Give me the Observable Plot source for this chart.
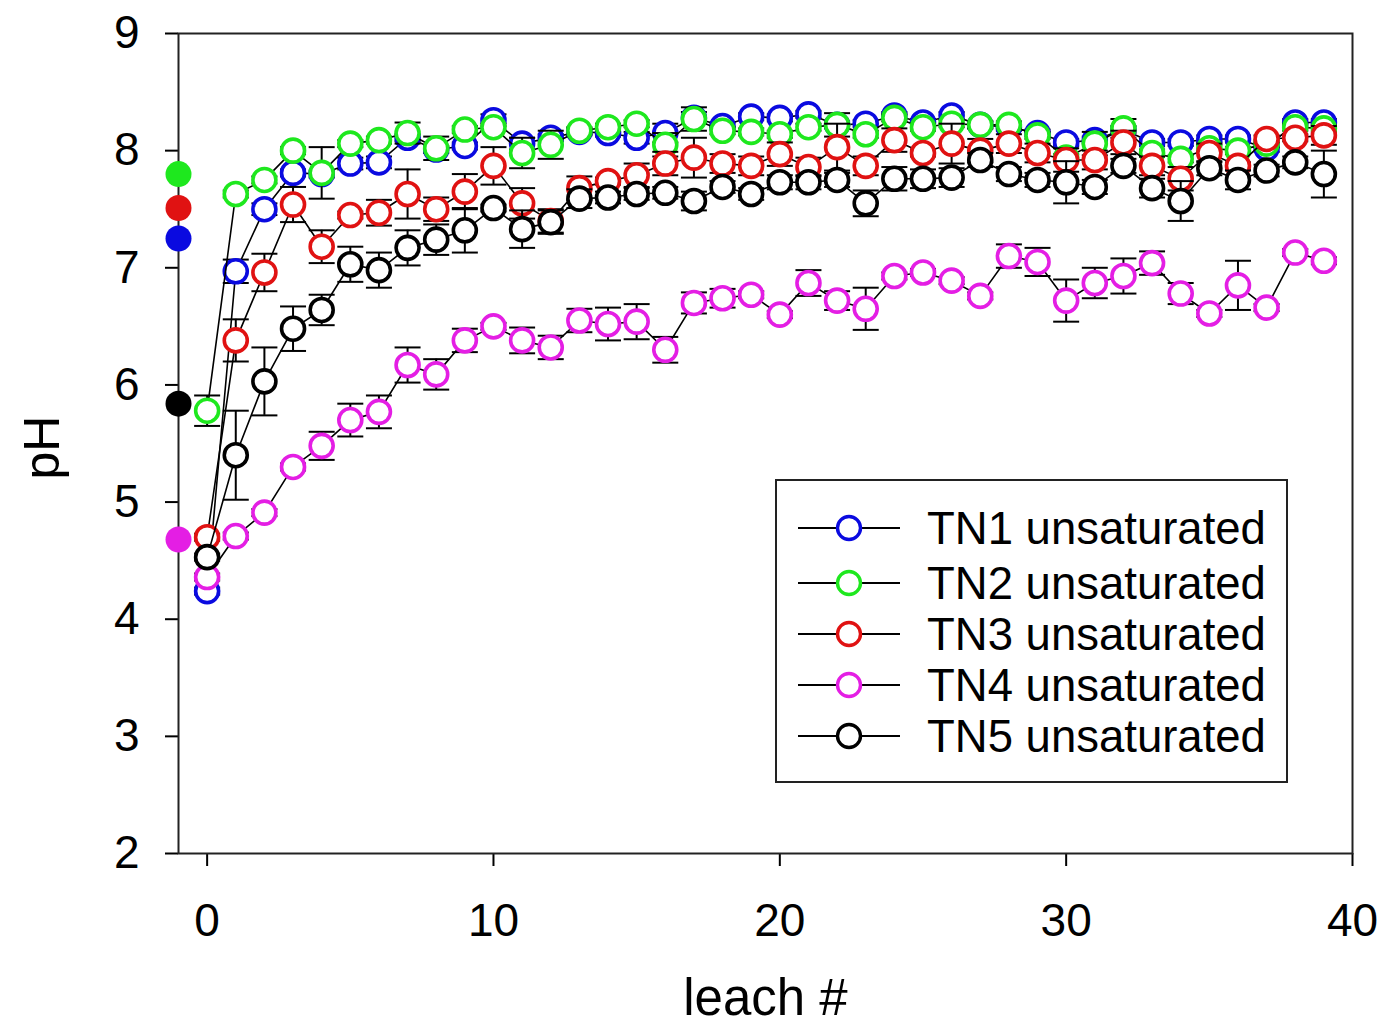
<!DOCTYPE html>
<html>
<head>
<meta charset="utf-8">
<script src="https://cdn.jsdelivr.net/npm/d3@7"></script>
<script src="https://cdn.jsdelivr.net/npm/@observablehq/plot@0.6"></script>
<style>
  html, body { margin: 0; padding: 0; background: #fff; }
  #wrap { position: relative; width: 1384px; height: 1029px; font-family: "Liberation Sans", Arimo, Arial, sans-serif; }
  #legend { position: absolute; left: 775px; top: 479px; }
</style>
</head>
<body>
<div id="wrap">
  <div id="chart"></div>
  <div id="legend"></div>
</div>
<script>
// ---- data ----
const leach = [0,1,2,3,4,5,6,7,8,9,10,11,12,13,14,15,16,17,18,19,20,21,22,23,24,25,26,27,28,29,30,31,32,33,34,35,36,37,38,39];

const seriesNames = ["TN1 unsaturated", "TN2 unsaturated", "TN3 unsaturated", "TN4 unsaturated", "TN5 unsaturated"];
const seriesColors = ["#0a0ae0", "#1ee81e", "#e01212", "#e41ee4", "#000000"];

const TN1 = [4.24,6.97,7.50,7.81,7.80,7.89,7.90,8.11,8.01,8.04,8.26,8.06,8.11,8.16,8.15,8.11,8.15,8.28,8.21,8.29,8.28,8.31,8.22,8.23,8.30,8.24,8.30,8.22,8.20,8.15,8.07,8.09,8.18,8.07,8.07,8.10,8.10,8.02,8.24,8.24];
const TN2 = [5.78,7.63,7.75,8.00,7.81,8.06,8.09,8.15,8.02,8.18,8.20,7.98,8.05,8.17,8.20,8.23,8.05,8.27,8.17,8.16,8.14,8.20,8.22,8.14,8.28,8.20,8.23,8.22,8.22,8.13,7.94,8.06,8.19,7.98,7.93,8.02,8.00,8.06,8.20,8.19];
const TN3 = [4.70,6.38,6.96,7.54,7.18,7.45,7.47,7.63,7.50,7.65,7.87,7.55,7.40,7.68,7.74,7.79,7.89,7.94,7.89,7.87,7.97,7.86,8.03,7.87,8.09,7.98,8.06,8.00,8.06,7.98,7.92,7.92,8.07,7.87,7.76,7.98,7.87,8.10,8.11,8.13];
const TN4 = [4.36,4.71,4.91,5.30,5.48,5.70,5.77,6.17,6.09,6.38,6.50,6.38,6.32,6.55,6.52,6.54,6.30,6.70,6.74,6.77,6.60,6.87,6.72,6.65,6.93,6.96,6.89,6.76,7.10,7.05,6.72,6.87,6.93,7.04,6.78,6.61,6.85,6.66,7.13,7.06];
const TN5 = [4.53,5.40,6.03,6.48,6.64,7.03,6.98,7.17,7.24,7.32,7.51,7.33,7.39,7.59,7.60,7.63,7.64,7.57,7.69,7.63,7.73,7.73,7.75,7.55,7.76,7.76,7.77,7.92,7.80,7.75,7.73,7.69,7.87,7.68,7.57,7.85,7.75,7.83,7.90,7.80];

const TN1err = [0.03,0.10,0.05,0.03,0.03,0.05,0.05,0.03,0.03,0.03,0.05,0.05,0.03,0.03,0.03,0.05,0.08,0.05,0.03,0.03,0.03,0.03,0.03,0.03,0.03,0.03,0.03,0.03,0.03,0.03,0.03,0.03,0.03,0.03,0.03,0.03,0.03,0.03,0.03,0.03];
const TN2err = [0.13,0.03,0.03,0.03,0.22,0.03,0.03,0.09,0.10,0.03,0.03,0.13,0.12,0.03,0.03,0.03,0.10,0.10,0.03,0.03,0.03,0.03,0.10,0.03,0.03,0.03,0.03,0.03,0.03,0.03,0.03,0.10,0.08,0.03,0.03,0.03,0.03,0.03,0.03,0.03];
const TN3err = [0.03,0.18,0.16,0.15,0.14,0.03,0.11,0.21,0.10,0.15,0.16,0.13,0.10,0.10,0.03,0.10,0.10,0.17,0.08,0.08,0.10,0.08,0.20,0.08,0.10,0.03,0.17,0.10,0.08,0.08,0.10,0.08,0.10,0.08,0.10,0.08,0.03,0.03,0.03,0.08];
const TN4err = [0.03,0.03,0.03,0.03,0.12,0.14,0.14,0.15,0.13,0.10,0.03,0.11,0.10,0.10,0.14,0.15,0.11,0.09,0.08,0.03,0.03,0.11,0.08,0.18,0.03,0.03,0.03,0.03,0.10,0.12,0.18,0.13,0.15,0.10,0.09,0.03,0.21,0.03,0.03,0.03];
const TN5err = [0.03,0.38,0.29,0.19,0.13,0.15,0.15,0.15,0.13,0.19,0.03,0.16,0.10,0.08,0.05,0.05,0.05,0.08,0.05,0.05,0.06,0.06,0.06,0.11,0.10,0.08,0.08,0.06,0.06,0.06,0.18,0.06,0.06,0.08,0.17,0.06,0.08,0.05,0.05,0.20];

// initial (pre-leach) pH, plotted at leach # -1
const initialLeach = -1;
const initialPH = [7.25, 7.80, 7.51, 4.68, 5.84];

const xTicks = [0, 10, 20, 30, 40];
const yTicks = [2, 3, 4, 5, 6, 7, 8, 9];

// ---- build tables ----
const seriesValues = [TN1, TN2, TN3, TN4, TN5];
const seriesErrors = [TN1err, TN2err, TN3err, TN4err, TN5err];
const tables = seriesValues.map((vals, s) =>
  leach.map((l, i) => ({series: seriesNames[s], leach: l, pH: vals[i], err: seriesErrors[s][i]}))
);
const initialRows = initialPH.map((v, s) => ({series: seriesNames[s], leach: initialLeach, pH: v, color: seriesColors[s]}));

const capSymbol = {
  draw(context, size) {
    const w = Math.sqrt(size / Math.PI);
    context.moveTo(-w, 0);
    context.lineTo(w, 0);
  }
};

const FONT = '"Liberation Sans", Arimo, Arial, sans-serif';

const marks = [];
tables.forEach((rows, s) => {
  marks.push(Plot.line(rows, {x: "leach", y: "pH", stroke: "#000", strokeWidth: 1.6}));
  marks.push(Plot.ruleX(rows, {x: "leach", y1: d => d.pH - d.err, y2: d => d.pH + d.err, stroke: "#000", strokeWidth: 2}));
  marks.push(Plot.dot(rows, {x: "leach", y: d => d.pH - d.err, symbol: capSymbol, r: 13, fill: "none", stroke: "#000", strokeWidth: 2}));
  marks.push(Plot.dot(rows, {x: "leach", y: d => d.pH + d.err, symbol: capSymbol, r: 13, fill: "none", stroke: "#000", strokeWidth: 2}));
  marks.push(Plot.dot(rows, {x: "leach", y: "pH", r: 11.5, fill: "#fff", stroke: seriesColors[s], strokeWidth: 3.6}));
});
marks.push(Plot.dot(initialRows, {x: "leach", y: "pH", r: 13, fill: d => d.color, stroke: "none"}));

const chart = Plot.plot({
  width: 1384,
  height: 1029,
  marginLeft: 178,
  marginRight: 32,
  marginTop: 33,
  marginBottom: 176,
  style: {fontSize: "46px", fontFamily: FONT, color: "#000", background: "#fff"},
  x: {domain: [-1, 40], ticks: xTicks},
  y: {domain: [2, 9], ticks: yTicks},
  marks: [
    Plot.axisX({ticks: xTicks, tickSize: 13, tickPadding: 37, strokeWidth: 2, label: null, tickFormat: d => String(d)}),
    Plot.axisY({ticks: yTicks, tickSize: 13, tickPadding: 26, strokeWidth: 2, label: null, tickFormat: d => String(d)}),
    Plot.frame({stroke: "#222", strokeWidth: 2}),
    ...marks,
    Plot.text(["leach #"], {frameAnchor: "bottom", textAnchor: "middle", dy: 161, text: d => d, fontSize: 51}),
    Plot.text(["pH"], {frameAnchor: "left", textAnchor: "middle", lineAnchor: "middle", dx: -136, dy: 4, rotate: -90, text: d => d, fontSize: 50})
  ]
});
document.getElementById("chart").appendChild(chart);

// ---- legend (inside plot area) ----
const LW = 513, LH = 304;
const legend = d3.select("#legend").append("svg")
  .attr("width", LW).attr("height", LH)
  .style("display", "block")
  .style("font-family", FONT);
legend.append("rect").attr("x", 1).attr("y", 1).attr("width", LW - 2).attr("height", LH - 2)
  .attr("fill", "#fff").attr("stroke", "#222").attr("stroke-width", 2);
const rowY = [49, 104, 155, 206, 257];
seriesNames.forEach((name, i) => {
  const g = legend.append("g").attr("transform", `translate(0,${rowY[i]})`);
  g.append("line").attr("x1", 23).attr("x2", 125).attr("y1", 0).attr("y2", 0).attr("stroke", "#000").attr("stroke-width", 1.8);
  g.append("circle").attr("cx", 74).attr("cy", 0).attr("r", 11.5).attr("fill", "#fff").attr("stroke", seriesColors[i]).attr("stroke-width", 3.4);
  g.append("text").attr("x", 152).attr("y", 0).attr("dy", "0.36em").attr("font-size", 45.5).attr("fill", "#000").text(name);
});
</script>
</body>
</html>
